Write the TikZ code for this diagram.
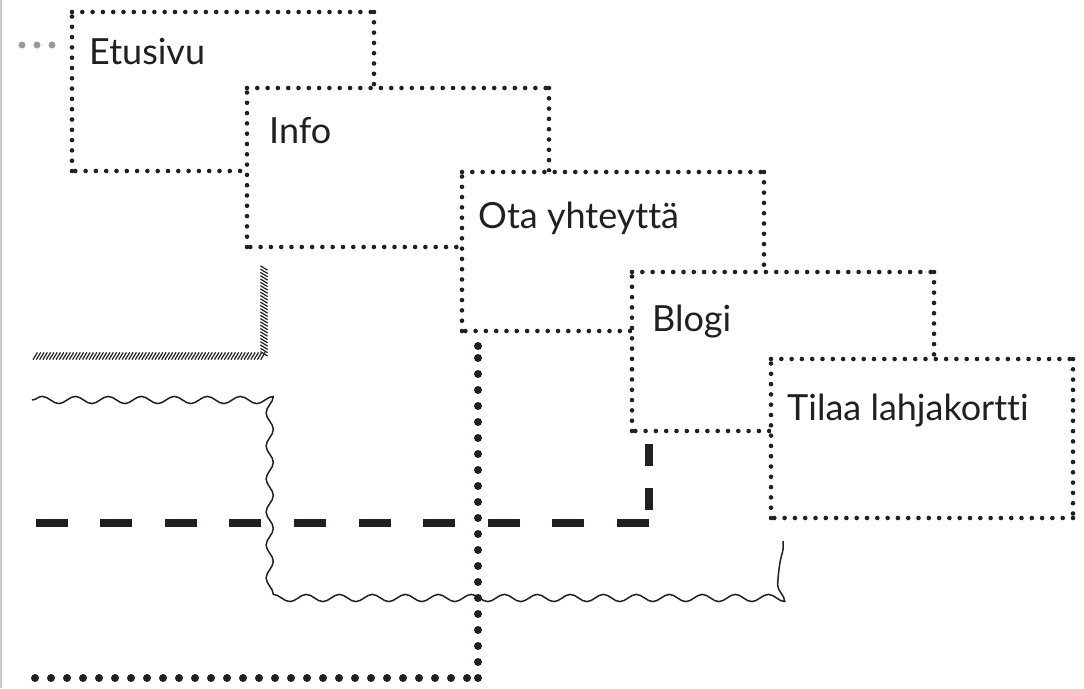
\documentclass[tikz,border=0pt]{standalone}
\usepackage{fontspec}
\setmainfont{Lato}[Ligatures=NoCommon]
\usetikzlibrary{calc,decorations.pathmorphing,decorations.markings}

\definecolor{ink}{HTML}{231F20}
\definecolor{railgray}{HTML}{CACACA}
\definecolor{dotgray}{HTML}{9A9A9A}

% dotted frame of a page box, one side at a time so every corner gets a dot
\newcommand\pageframe[1]{%
  \draw[pagedots] (#1.north west) -- (#1.north east);
  \draw[pagedots] (#1.north east) -- (#1.south east);
  \draw[pagedots] (#1.south east) -- (#1.south west);
  \draw[pagedots] (#1.south west) -- (#1.north west);}

\begin{document}
\begin{tikzpicture}[x=1pt,y=-1pt,
  page/.style={minimum width=302pt, minimum height=159pt, anchor=north west,
    fill=white, inner sep=0pt, outer sep=0pt},
  pagedots/.style={ink, line width=4.6pt, line cap=round, dash pattern=on 0pt off 10.3pt},
  pagename/.style={anchor=base west, inner sep=0pt, text=ink,
    font=\fontsize{36}{43}\selectfont},
  raildots/.style={dotgray, line width=7pt, line cap=round, dash pattern=on 0pt off 15pt},
  bigdots/.style={ink, line width=8pt, line cap=round, dash pattern=on 0pt off 16pt},
  bardash/.style={ink, line width=8pt, line cap=butt, dash pattern=on 32pt off 32.6pt},
  hatchband/.style={decorate, decoration={markings,
    mark=between positions 0 and 1 step 3.3pt with
      {\draw[ink, line width=1.2pt] (-2.2,3.6) -- (2.2,-3.6);}}},
  wavy/.style={draw=ink, line width=1.5pt, line join=round, decorate,
    decoration={snake, amplitude=3.6pt, segment length=33pt}}
]
\useasboundingbox (0,0) rectangle (1084,688);

% left rail
\coordinate (rail-top) at (1,0);
\coordinate (rail-bot) at (1,688);
\draw[railgray, line width=2pt] (rail-top) -- (rail-bot);

% stacked page boxes
\node[page] (etusivu) at (72,12) {};
\pageframe{etusivu}
\node[pagename] (etusivu-t) at ($(etusivu.north west)+(17,52)$) {Etusivu};

\node[page] (info) at (247,88) {};
\pageframe{info}
\node[pagename] (info-t) at ($(info.north west)+(22,55)$) {Info};

\node[page] (ota) at (462,172) {};
\pageframe{ota}
\node[pagename] (ota-t) at ($(ota.north west)+(16,56)$) {Ota yhteyttä};

\node[page] (blogi) at (632,272) {};
\pageframe{blogi}
\node[pagename] (blogi-t) at ($(blogi.north west)+(20,59)$) {Blogi};

\node[page] (tilaa) at (771,359) {};
\pageframe{tilaa}
\node[pagename] (tilaa-t) at ($(tilaa.north west)+(16,61)$) {Tilaa lahjakortti};

% grey lead-in to the first page
\coordinate (rail-in) at (22,45);
\coordinate (etusivu-in) at ($(etusivu.north west)+(-12,33)$);
\draw[raildots] (rail-in) -- (etusivu-in);

% hatched leader from Info
\coordinate (info-out)  at ($(info.south west)+(17,21)$);
\coordinate (info-bend) at ($(info.south west)+(17,109)$);
\coordinate (info-end)  at (32,356);
\path[hatchband] (info-out) -- (info-bend) -- (info-end);

% wavy leader from Tilaa lahjakortti
\coordinate (tilaa-out)   at ($(tilaa.south west)+(12,23)$);
\coordinate (tilaa-bend1) at ($(tilaa.south west)+(12,70)$);
\coordinate (tilaa-bend2) at (268,588);
\coordinate (tilaa-bend3) at (268,400);
\coordinate (tilaa-end)   at (32,400);
\draw[wavy] (tilaa-end) -- (tilaa-bend3) -- (tilaa-bend2) -- (tilaa-bend1) -- (tilaa-out);

% dashed leader from Blogi
\coordinate (blogi-out)  at ($(blogi.south west)+(17,13)$);
\coordinate (blogi-bend) at ($(blogi.south west)+(17,92)$);
\coordinate (blogi-end)  at (35,523);
\draw[bardash, dash pattern=on 22pt off 22pt] (blogi-out) -- (blogi-bend);
\draw[bardash] (blogi-bend) -- (blogi-end);

% heavy dotted leader from Ota yhteyttä
\coordinate (ota-out)  at ($(ota.south west)+(16,15)$);
\coordinate (ota-bend) at ($(ota.south west)+(16,347)$);
\coordinate (ota-end)  at (35,678);
\draw[bigdots] (ota-bend) -- (ota-out);
\draw[bigdots] (ota-end) -- (ota-bend);
\fill[ink] (ota-out) circle (4pt);
\end{tikzpicture}
\end{document}
